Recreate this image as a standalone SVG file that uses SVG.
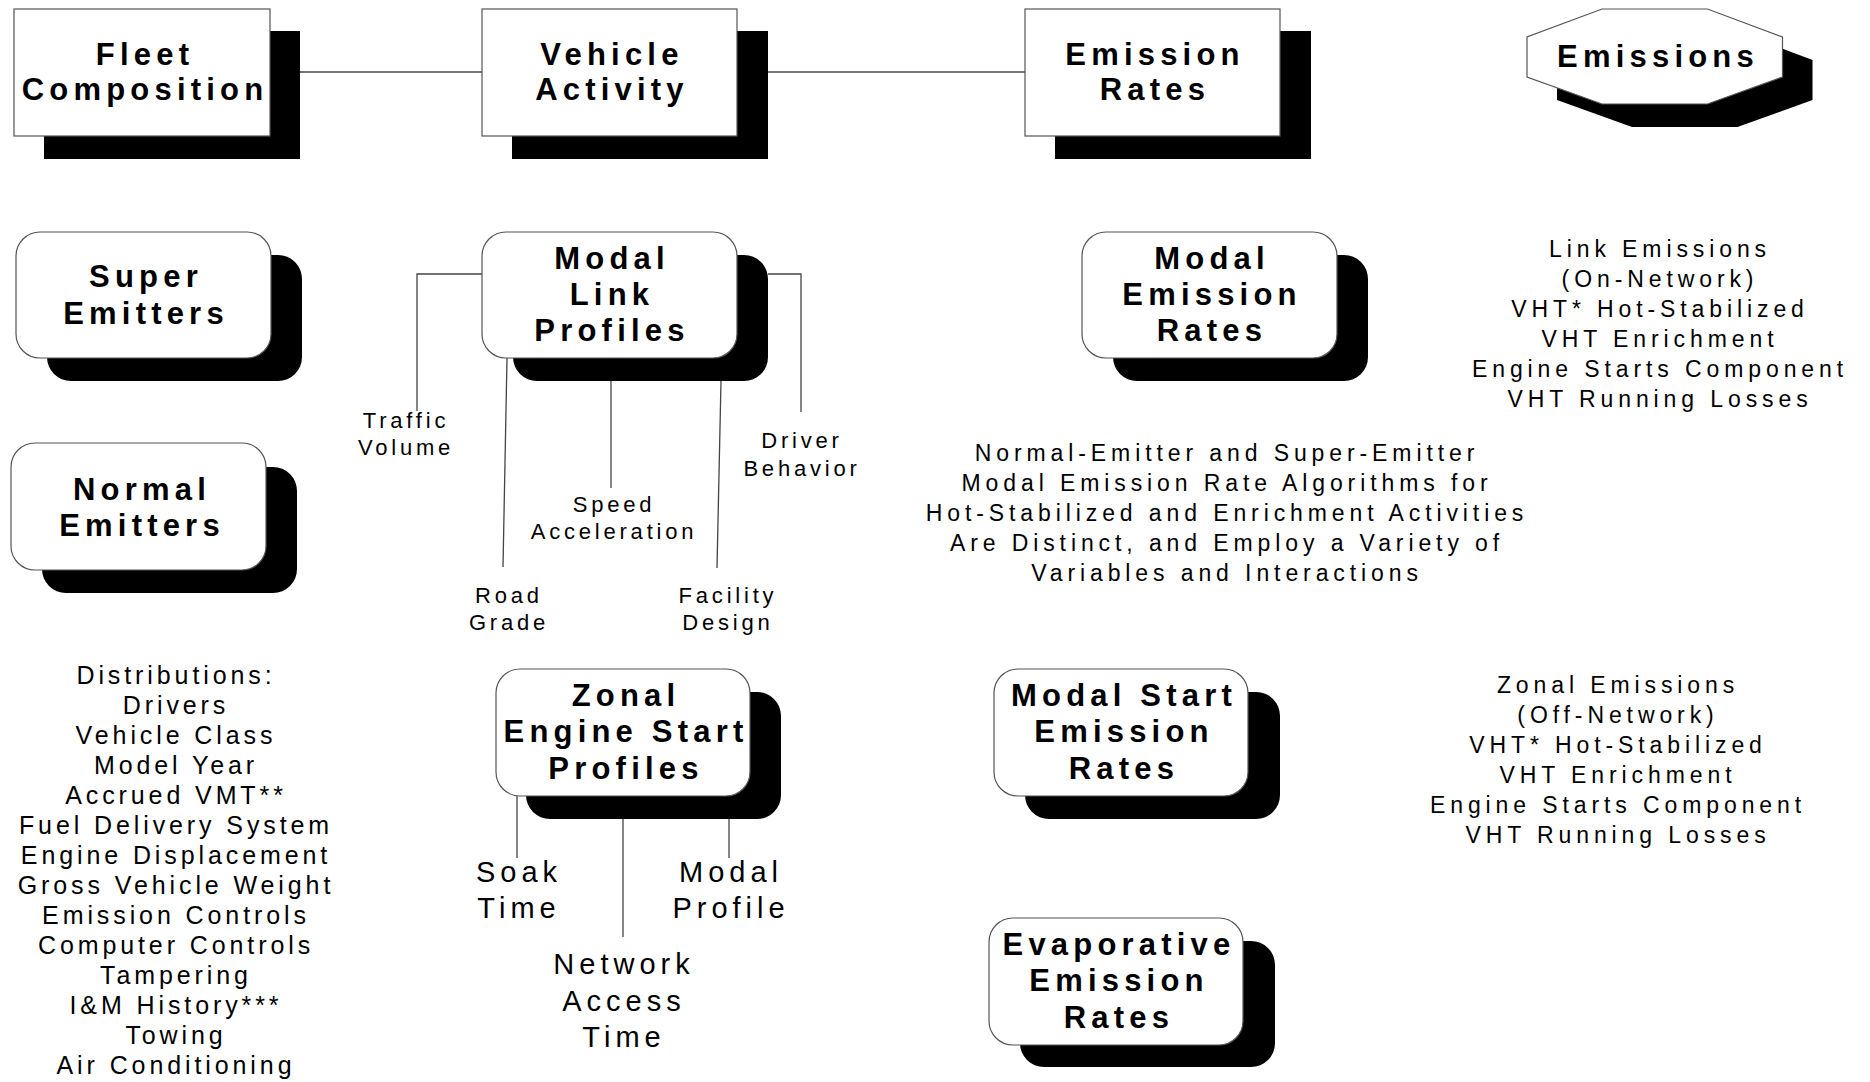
<svg xmlns="http://www.w3.org/2000/svg" width="1870" height="1082" viewBox="0 0 1870 1082">
<style>
.bg{fill:#fff}
.sh{fill:#000}
.box{fill:#fff;stroke:#555;stroke-width:1.2}
.lbl{font-family:"Liberation Sans",Arial,sans-serif;font-weight:bold;font-size:31px;letter-spacing:5.2px;text-anchor:middle;fill:#000}
.sm{font-family:"Liberation Sans",Arial,sans-serif;font-size:22px;letter-spacing:3.8px;text-anchor:middle;fill:#000}
.md{font-family:"Liberation Sans",Arial,sans-serif;font-size:29px;letter-spacing:5px;text-anchor:middle;fill:#000}
.blk{font-family:"Liberation Sans",Arial,sans-serif;font-size:23px;letter-spacing:4.9px;text-anchor:middle;fill:#000}
.dst{font-family:"Liberation Sans",Arial,sans-serif;font-size:25px;letter-spacing:3.9px;text-anchor:middle;fill:#000}
.cn{fill:none;stroke:#444;stroke-width:1.3}
</style>
<rect class="bg" x="0" y="0" width="1870" height="1082"/>

<g id="connectors">
<line class="cn" x1="300" y1="72" x2="482" y2="72"/>
<line class="cn" x1="768" y1="72" x2="1025" y2="72"/>
<polyline class="cn" points="482,274 417,274 417,411"/>
<line class="cn" x1="507" y1="358" x2="503" y2="567"/>
<line class="cn" x1="611" y1="381" x2="611" y2="488"/>
<line class="cn" x1="721" y1="381" x2="717" y2="568"/>
<polyline class="cn" points="768,274 801,274 801,412"/>
<line class="cn" x1="517" y1="796" x2="517" y2="858"/>
<line class="cn" x1="623" y1="819" x2="623" y2="937"/>
<line class="cn" x1="729" y1="819" x2="729" y2="858"/>
</g>

<g id="fleet-composition">
<rect class="sh" x="44" y="31" width="256" height="128"/>
<rect class="box" x="14" y="9" width="256" height="127"/>
<text class="lbl" x="145" y="65">Fleet</text>
<text class="lbl" x="145" y="100">Composition</text>
</g>

<g id="vehicle-activity">
<rect class="sh" x="512" y="31" width="256" height="128"/>
<rect class="box" x="482" y="9" width="255" height="127"/>
<text class="lbl" x="612" y="65">Vehicle</text>
<text class="lbl" x="612" y="100">Activity</text>
</g>

<g id="emission-rates">
<rect class="sh" x="1055" y="31" width="256" height="128"/>
<rect class="box" x="1025" y="9" width="255" height="127"/>
<text class="lbl" x="1155" y="65">Emission</text>
<text class="lbl" x="1155" y="100">Rates</text>
</g>

<g id="emissions">
<polygon class="sh" points="1632,32 1737.5,32 1812.5,60 1812.5,100 1737.5,127 1632,127 1557,100 1557,60"/>
<polygon class="box" points="1602,9 1707.5,9 1782.5,37 1782.5,77 1707.5,104 1602,104 1527,77 1527,37"/>
<text class="lbl" x="1658" y="67">Emissions</text>
</g>

<g id="super-emitters">
<rect class="sh" x="47" y="255" width="255" height="126" rx="24"/>
<rect class="box" x="16" y="232" width="255" height="126" rx="24"/>
<text class="lbl" x="146" y="287">Super</text>
<text class="lbl" x="146" y="324">Emitters</text>
</g>

<g id="normal-emitters">
<rect class="sh" x="42" y="467" width="255" height="126" rx="24"/>
<rect class="box" x="11" y="443" width="255" height="127" rx="24"/>
<text class="lbl" x="142" y="500">Normal</text>
<text class="lbl" x="142" y="536">Emitters</text>
</g>

<g id="modal-link-profiles">
<rect class="sh" x="513" y="255" width="255" height="126" rx="24"/>
<rect class="box" x="482" y="232" width="255" height="126" rx="24"/>
<text class="lbl" x="612" y="269">Modal</text>
<text class="lbl" x="612" y="305">Link</text>
<text class="lbl" x="612" y="341">Profiles</text>
</g>

<g id="modal-emission-rates">
<rect class="sh" x="1113" y="255" width="255" height="126" rx="24"/>
<rect class="box" x="1082" y="232" width="255" height="126" rx="24"/>
<text class="lbl" x="1212" y="269">Modal</text>
<text class="lbl" x="1212" y="305">Emission</text>
<text class="lbl" x="1212" y="341">Rates</text>
</g>

<g id="zonal-engine-start-profiles">
<rect class="sh" x="526" y="692" width="255" height="127" rx="24"/>
<rect class="box" x="496" y="669" width="254" height="127" rx="24"/>
<text class="lbl" x="626" y="706">Zonal</text>
<text class="lbl" x="626" y="742">Engine Start</text>
<text class="lbl" x="626" y="779">Profiles</text>
</g>

<g id="modal-start-emission-rates">
<rect class="sh" x="1025" y="692" width="255" height="127" rx="24"/>
<rect class="box" x="994" y="669" width="254" height="127" rx="24"/>
<text class="lbl" x="1124" y="706">Modal Start</text>
<text class="lbl" x="1124" y="742">Emission</text>
<text class="lbl" x="1124" y="779">Rates</text>
</g>

<g id="evaporative-emission-rates">
<rect class="sh" x="1020" y="941" width="255" height="126" rx="24"/>
<rect class="box" x="989" y="918" width="254" height="127" rx="24"/>
<text class="lbl" x="1119" y="955">Evaporative</text>
<text class="lbl" x="1119" y="991">Emission</text>
<text class="lbl" x="1119" y="1028">Rates</text>
</g>

<g id="link-labels">
<text class="sm" x="406" y="428">Traffic</text>
<text class="sm" x="406" y="455">Volume</text>
<text class="sm" x="802" y="448">Driver</text>
<text class="sm" x="802" y="476">Behavior</text>
<text class="sm" x="614" y="512">Speed</text>
<text class="sm" x="614" y="539">Acceleration</text>
<text class="sm" x="509" y="603">Road</text>
<text class="sm" x="509" y="630">Grade</text>
<text class="sm" x="728" y="603">Facility</text>
<text class="sm" x="728" y="630">Design</text>
</g>

<g id="zonal-labels">
<text class="md" x="519" y="882">Soak</text>
<text class="md" x="519" y="918">Time</text>
<text class="md" x="731" y="882">Modal</text>
<text class="md" x="731" y="918">Profile</text>
<text class="md" x="624" y="974">Network</text>
<text class="md" x="624" y="1011">Access</text>
<text class="md" x="624" y="1047">Time</text>
</g>

<g id="link-emissions">
<text class="blk" x="1660" y="257">Link Emissions</text>
<text class="blk" x="1660" y="287">(On-Network)</text>
<text class="blk" x="1660" y="317">VHT* Hot-Stabilized</text>
<text class="blk" x="1660" y="347">VHT Enrichment</text>
<text class="blk" x="1660" y="377">Engine Starts Component</text>
<text class="blk" x="1660" y="407">VHT Running Losses</text>
</g>

<g id="algorithms-note">
<text class="blk" x="1227" y="461">Normal-Emitter and Super-Emitter</text>
<text class="blk" x="1227" y="491">Modal Emission Rate Algorithms for</text>
<text class="blk" x="1227" y="521">Hot-Stabilized and Enrichment Activities</text>
<text class="blk" x="1227" y="551">Are Distinct, and Employ a Variety of</text>
<text class="blk" x="1227" y="581">Variables and Interactions</text>
</g>

<g id="zonal-emissions">
<text class="blk" x="1618" y="693">Zonal Emissions</text>
<text class="blk" x="1618" y="723">(Off-Network)</text>
<text class="blk" x="1618" y="753">VHT* Hot-Stabilized</text>
<text class="blk" x="1618" y="783">VHT Enrichment</text>
<text class="blk" x="1618" y="813">Engine Starts Component</text>
<text class="blk" x="1618" y="843">VHT Running Losses</text>
</g>

<g id="distributions">
<text class="dst" x="176" y="684">Distributions:</text>
<text class="dst" x="176" y="714">Drivers</text>
<text class="dst" x="176" y="744">Vehicle Class</text>
<text class="dst" x="176" y="774">Model Year</text>
<text class="dst" x="176" y="804">Accrued VMT**</text>
<text class="dst" x="176" y="834">Fuel Delivery System</text>
<text class="dst" x="176" y="864">Engine Displacement</text>
<text class="dst" x="176" y="894">Gross Vehicle Weight</text>
<text class="dst" x="176" y="924">Emission Controls</text>
<text class="dst" x="176" y="954">Computer Controls</text>
<text class="dst" x="176" y="984">Tampering</text>
<text class="dst" x="176" y="1014">I&amp;M History***</text>
<text class="dst" x="176" y="1044">Towing</text>
<text class="dst" x="176" y="1074">Air Conditioning</text>
</g>
</svg>
